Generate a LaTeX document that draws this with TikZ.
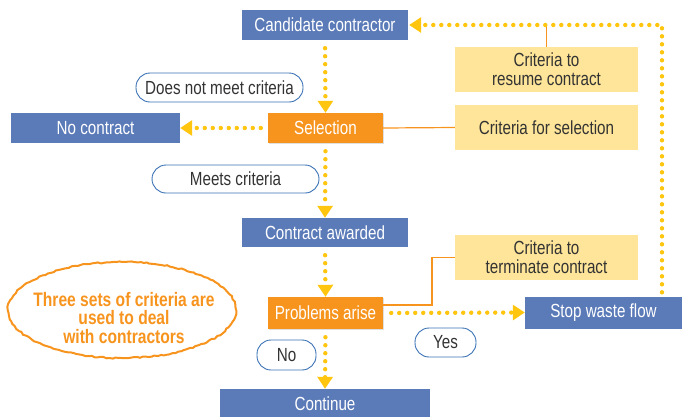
\documentclass[tikz,border=0pt]{standalone}
\usepackage{fontspec}
\setmainfont{Liberation Sans}[FakeStretch=0.8]
\usetikzlibrary{arrows.meta,calc,shadows,decorations.pathmorphing}
\definecolor{boxblue}{HTML}{5A7AB8}
\definecolor{boxorange}{HTML}{F7941E}
\definecolor{boxyellow}{HTML}{FEE599}
\definecolor{pillblue}{HTML}{3A72B5}
\definecolor{dotyellow}{HTML}{FFC50F}
\definecolor{txtdark}{HTML}{333333}
\tikzset{
  base/.style={inner sep=0pt, font=\fontsize{19}{19}\selectfont, align=center},
  bluebox/.style={base, fill=boxblue, text=white},
  orangebox/.style={base, fill=boxorange, text=white,
    drop shadow={opacity=0.25, shadow xshift=1pt, shadow yshift=-1pt}},
  yellowbox/.style={base, fill=boxyellow, text=txtdark, minimum width=183pt, minimum height=45pt},
  pill/.style={base, draw=pillblue, line width=0.9pt, fill=white, text=txtdark, rounded corners=14pt},
  flow/.style={draw=dotyellow, line width=4.4pt, line cap=round, dash pattern=on 0pt off 8pt,
    -{Triangle[width=15pt,length=12pt,fill=dotyellow]}},
  link/.style={draw=boxorange, line width=1.2pt},
}
\begin{document}
\begin{tikzpicture}[x=1pt,y=-1pt]
\useasboundingbox (0,0) rectangle (682,416);
% boxes
\node[bluebox, minimum width=166pt, minimum height=30pt] (cand) at (325,25) {Candidate contractor};
\node[orangebox, minimum width=115pt, minimum height=30pt] (sel) at (325.5,128) {Selection};
\node[bluebox, minimum width=169pt, minimum height=30pt] (nocon) at (95.5,128) {No contract};
\node[yellowbox] (resume) at (546.5,69.5) {Criteria to\\resume contract};
\node[yellowbox] (critsel) at (546.5,127.5) {Criteria for selection};
\node[pill, minimum width=167pt, minimum height=29pt] (dnm) at (219.5,87.5) {Does not meet criteria};
\node[pill, minimum width=167pt, minimum height=28pt] (meets) at (235.5,179) {Meets criteria};
\node[bluebox, minimum width=166pt, minimum height=29pt] (award) at (325,232.5) {Contract awarded};
\node[yellowbox] (term) at (546.5,257.5) {Criteria to\\terminate contract};
\node[orangebox, minimum width=115pt, minimum height=32pt] (prob) at (325.5,313) {Problems arise};
\node[bluebox, minimum width=157pt, minimum height=32pt] (stop) at (603.5,312.5) {Stop waste flow};
\node[pill, minimum width=61pt, minimum height=29pt] (yes) at (445.5,342.5) {Yes};
\node[pill, minimum width=59pt, minimum height=30pt] (no) at (286.5,355) {No};
\node[bluebox, minimum width=210pt, minimum height=30pt] (cont) at (325,404) {Continue};
% ellipse note
\draw[boxorange, line width=2pt, decorate, decoration={random steps, segment length=3pt, amplitude=0.7pt}]
  (122,310) ellipse [x radius=114pt, y radius=48pt];
\node[base, text=boxorange, font=\fontsize{19.5}{18.5}\selectfont\bfseries] (note) at (124,318)
  {Three sets of criteria are\\used to deal\\with contractors};
% orange links
\coordinate (loop) at (662,25);
\draw[link] (resume.north) -- (resume.north |- cand.east);
\draw[link] (sel.east) -- (critsel.west);
\coordinate (pe) at ($(prob.east)+(0,-8)$);
\coordinate (bend) at (432,0);
\draw[link] (pe) -- (pe -| bend) |- (term.west);
% flow connectors
\draw[flow, shorten <=8pt] (cand.south) -- (sel.north);
\draw[flow, shorten <=7pt] (sel.west) -- (nocon.east);
\draw[flow, shorten <=8pt] (sel.south) -- (award.north);
\draw[flow, shorten <=8pt] (award.south) -- (prob.north);
\draw[flow, shorten <=8pt] (prob.south) -- (cont.north);
\draw[flow, shorten <=8pt] (prob.east) -- (stop.west);
\draw[flow, shorten <=4pt, shorten >=1pt] (stop.north -| loop) |- (cand.east);
\end{tikzpicture}
\end{document}
